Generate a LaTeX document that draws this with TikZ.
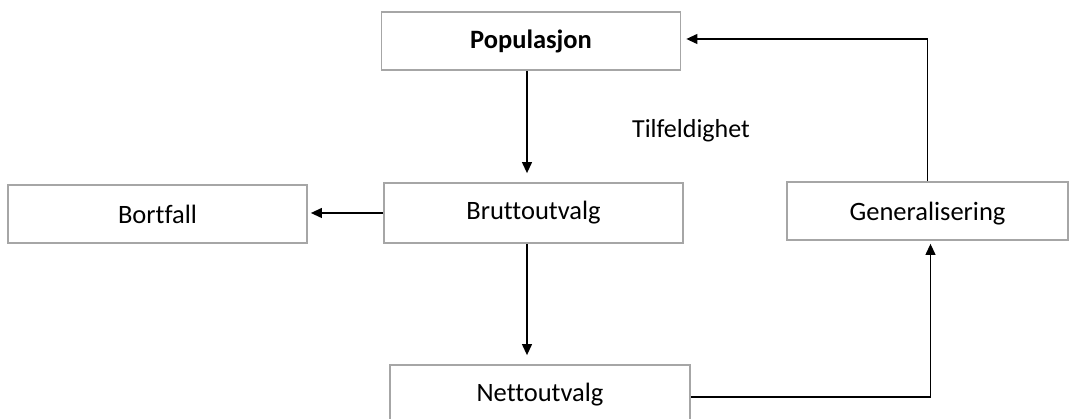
\documentclass[tikz,border=0pt]{standalone}
\usepackage{fontspec}
\setmainfont[Ligatures={NoCommon}]{Carlito}
\usetikzlibrary{arrows.meta}
\definecolor{boxgray}{HTML}{A6A6A6}
\tikzset{
  box/.style={draw=boxgray, line width=1.8pt, fill=white, minimum width=#1, minimum height=58pt, inner sep=0pt, font=\fontsize{26.5}{30}\selectfont},
  box/.default=299pt,
  conn/.style={line width=1.2pt, -{Triangle[length=11pt,width=10pt]}},
  lbl/.style={font=\fontsize{26}{30}\selectfont, inner sep=0pt}
}
\begin{document}
\begin{tikzpicture}[x=1pt,y=-1pt]
\useasboundingbox[fill=white] (0,0) rectangle (1072,419);
\clip (0,0) rectangle (1072,419);
\node[box] (pop) at (531,41) {\bfseries Populasjon};
\node[box] (bort) at (157.5,214) {Bortfall};
\node[box, minimum height=60pt] (brutto) at (533.5,213) {Bruttoutvalg};
\node[box=281pt] (gen) at (927.5,211) {\raisebox{-3pt}[\height][\depth]{Generalisering}};
\node[box=300pt, minimum height=60pt] (netto) at (540,395) {\raisebox{4pt}{Nettoutvalg}};
\node[lbl] (tilf) at (691,131) {Tilfeldighet};
\coordinate (popdown) at ([xshift=-4pt]pop.south);
\draw[conn, shorten >=9pt] (popdown) -- (popdown |- brutto.north);
\coordinate (bruttodown) at ([xshift=-6.5pt]brutto.south);
\draw[conn, shorten >=9pt] (bruttodown) -- (bruttodown |- netto.north);
\draw[conn, shorten >=3pt] (brutto.west) -- (brutto.west -| bort.east);
\coordinate (genin) at ([xshift=3pt]gen.south);
\draw[conn, shorten >=3pt] ([yshift=-2pt]netto.east) -| (genin);
\coordinate (popin) at ([yshift=2pt]pop.east);
\draw[conn, shorten >=5pt] (gen.north) |- (popin);
\end{tikzpicture}
\end{document}
